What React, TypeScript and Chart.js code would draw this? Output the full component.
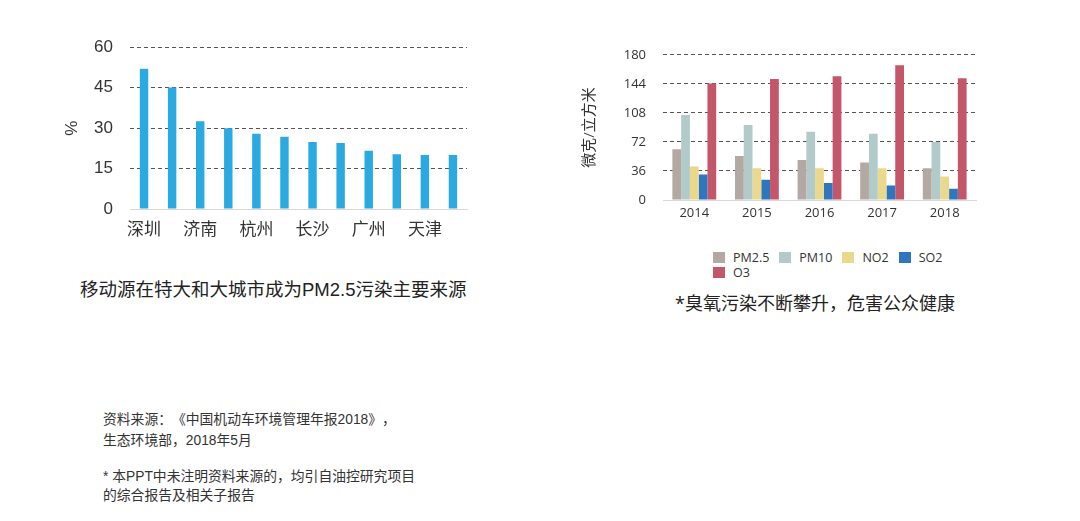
import React, { useEffect, useRef } from "react";
import { Chart, registerables } from "chart.js";

Chart.register(...registerables);

// ---------- Left chart data ----------
const cityLabels = ["深圳", "", "济南", "", "杭州", "", "长沙", "", "广州", "", "天津", ""];
const cityShares = [52.0, 45.1, 32.5, 29.9, 27.9, 26.8, 24.8, 24.5, 21.6, 20.3, 20.0, 20.0];
const shareMax = 60;
const shareStep = 15;

// ---------- Right chart data ----------
const years = ["2014", "2015", "2016", "2017", "2018"];
const pm25 = [63, 54.5, 49.5, 46.5, 39.5];
const pm10 = [105.5, 93, 84.5, 82, 72];
const no2 = [41.5, 39.5, 39.5, 39.5, 29];
const so2 = [31.5, 25, 21, 18, 14];
const o3 = [144.5, 150, 153.5, 167, 151];
const seriesNames = ["PM2.5", "PM10", "NO2", "SO2", "O3"];
const seriesValues = [pm25, pm10, no2, so2, o3];
const seriesColors = ["#B3A9A2", "#B2CBCA", "#EAD98C", "#2E76C0", "#C4566A"];
const concMax = 180;
const concStep = 36;

const leftFont = '"Liberation Sans", "Noto Sans CJK SC", sans-serif';
const rightFont = '"Open Sans", "Noto Sans CJK SC", sans-serif';

function LeftChart() {
  const ref = useRef<HTMLCanvasElement | null>(null);
  useEffect(() => {
    if (!ref.current) return;
    const chart = new Chart(ref.current, {
      type: "bar",
      data: {
        labels: cityLabels,
        datasets: [
          {
            data: cityShares,
            backgroundColor: "#2AAAE0",
            categoryPercentage: 1,
            barPercentage: 0.3,
          },
        ],
      },
      options: {
        animation: false,
        responsive: false,
        layout: { padding: { top: 21, right: 13, left: 0, bottom: 0 } },
        plugins: { legend: { display: false }, tooltip: { enabled: false } },
        scales: {
          x: {
            grid: { display: false, drawTicks: false },
            border: { display: true, color: "#D8D8D8", width: 1 },
            ticks: {
              autoSkip: false,
              maxRotation: 0,
              padding: 11,
              color: "#333",
              font: { family: leftFont, size: 17 },
            },
            afterFit: (s: any) => {
              s.height = 56;
            },
          },
          y: {
            min: 0,
            max: shareMax,
            ticks: {
              stepSize: shareStep,
              padding: 17,
              color: "#333",
              font: { family: leftFont, size: 17 },
            },
            grid: {
              drawTicks: false,
              color: (c: any) => (c.tick && c.tick.value === 0 ? "rgba(0,0,0,0)" : "#555"),
              lineWidth: 1,
            },
            border: { display: false, dash: [4, 3] },
            title: {
              display: true,
              text: "%",
              color: "#333",
              font: { family: leftFont, size: 17 },
              padding: { top: 22, bottom: 0 },
            },
            afterFit: (s: any) => {
              s.width = 90;
            },
          },
        },
      },
    });
    return () => chart.destroy();
  }, []);
  return (
    <canvas
      ref={ref}
      width={440}
      height={245}
      style={{ position: "absolute", left: 40, top: 20, width: 440, height: 245 }}
    />
  );
}

function RightChart() {
  const ref = useRef<HTMLCanvasElement | null>(null);
  useEffect(() => {
    if (!ref.current) return;
    const chart = new Chart(ref.current, {
      type: "bar",
      data: {
        labels: years,
        datasets: seriesNames.map((name, i) => ({
          label: name,
          data: seriesValues[i],
          backgroundColor: seriesColors[i],
          categoryPercentage: 0.7,
          barPercentage: 1,
        })),
      },
      options: {
        animation: false,
        responsive: false,
        layout: { padding: { top: 18, right: 14, left: 0, bottom: 0 } },
        plugins: { legend: { display: false }, tooltip: { enabled: false } },
        scales: {
          x: {
            grid: { display: false, drawTicks: false },
            border: { display: true, color: "#D8D8D8", width: 1 },
            ticks: {
              maxRotation: 0,
              padding: 5,
              color: "#333",
              font: { family: rightFont, size: 13 },
            },
            afterFit: (s: any) => {
              s.height = 28;
            },
          },
          y: {
            min: 0,
            max: concMax,
            ticks: {
              stepSize: concStep,
              padding: 17,
              color: "#333",
              font: { family: rightFont, size: 13 },
            },
            grid: {
              drawTicks: false,
              color: (c: any) => (c.tick && c.tick.value === 0 ? "rgba(0,0,0,0)" : "#555"),
              lineWidth: 1,
            },
            border: { display: false, dash: [4, 3] },
            title: {
              display: true,
              text: "微克/立方米",
              color: "#333",
              font: { family: rightFont, size: 15 },
              padding: { top: 11, bottom: 0 },
            },
            afterFit: (s: any) => {
              s.width = 93;
            },
          },
        },
      },
    });
    return () => chart.destroy();
  }, []);
  return (
    <canvas
      ref={ref}
      width={420}
      height={198}
      style={{ position: "absolute", left: 570, top: 30, width: 420, height: 198 }}
    />
  );
}

function RightLegend() {
  const rows = [seriesNames.slice(0, 4), seriesNames.slice(4)];
  return (
    <div style={{ position: "absolute", left: 713, top: 250, fontFamily: rightFont, fontSize: 12.5, color: "#333" }}>
      {rows.map((row, r) => (
        <div key={r} style={{ display: "flex", height: 15, alignItems: "center" }}>
          {row.map((name) => {
            const i = seriesNames.indexOf(name);
            return (
              <div key={name} style={{ display: "flex", alignItems: "center", marginRight: 10 }}>
                <span style={{ display: "inline-block", width: 12, height: 11, background: seriesColors[i], marginRight: 8 }} />
                <span style={{ lineHeight: "15px" }}>{name}</span>
              </div>
            );
          })}
        </div>
      ))}
    </div>
  );
}

const textStyle: React.CSSProperties = {
  position: "absolute",
  fontFamily: '"Liberation Sans", "Noto Sans CJK SC", sans-serif',
  color: "#222",
  whiteSpace: "nowrap",
  // keep full-width punctuation at full width
  ["textSpacingTrim" as any]: "space-all",
};

export default function App() {
  return (
    <div style={{ position: "fixed", left: 0, top: 0, width: 1080, height: 521, background: "#fff", overflow: "hidden" }}>
      <LeftChart />
      <RightChart />
      <RightLegend />
      <div style={{ ...textStyle, left: 80, top: 280, fontSize: 18.5, lineHeight: "20px" }}>
        移动源在特大和大城市成为PM2.5污染主要来源
      </div>
      <div style={{ ...textStyle, left: 675, top: 293, fontSize: 18, lineHeight: "20px", fontFamily: rightFont }}>
        *臭氧污染不断攀升，危害公众健康
      </div>
      <div style={{ ...textStyle, left: 103, top: 411, fontSize: 13.8, lineHeight: "18px", color: "#333" }}>
        资料来源：《中国机动车环境管理年报2018》，
      </div>
      <div style={{ ...textStyle, left: 103, top: 432, fontSize: 13.8, lineHeight: "18px", color: "#333" }}>
        生态环境部，2018年5月
      </div>
      <div style={{ ...textStyle, left: 103, top: 468, fontSize: 13.8, lineHeight: "18px", color: "#333" }}>
        * 本PPT中未注明资料来源的，均引自油控研究项目
      </div>
      <div style={{ ...textStyle, left: 103, top: 487, fontSize: 13.8, lineHeight: "18px", color: "#333" }}>
        的综合报告及相关子报告
      </div>
    </div>
  );
}
